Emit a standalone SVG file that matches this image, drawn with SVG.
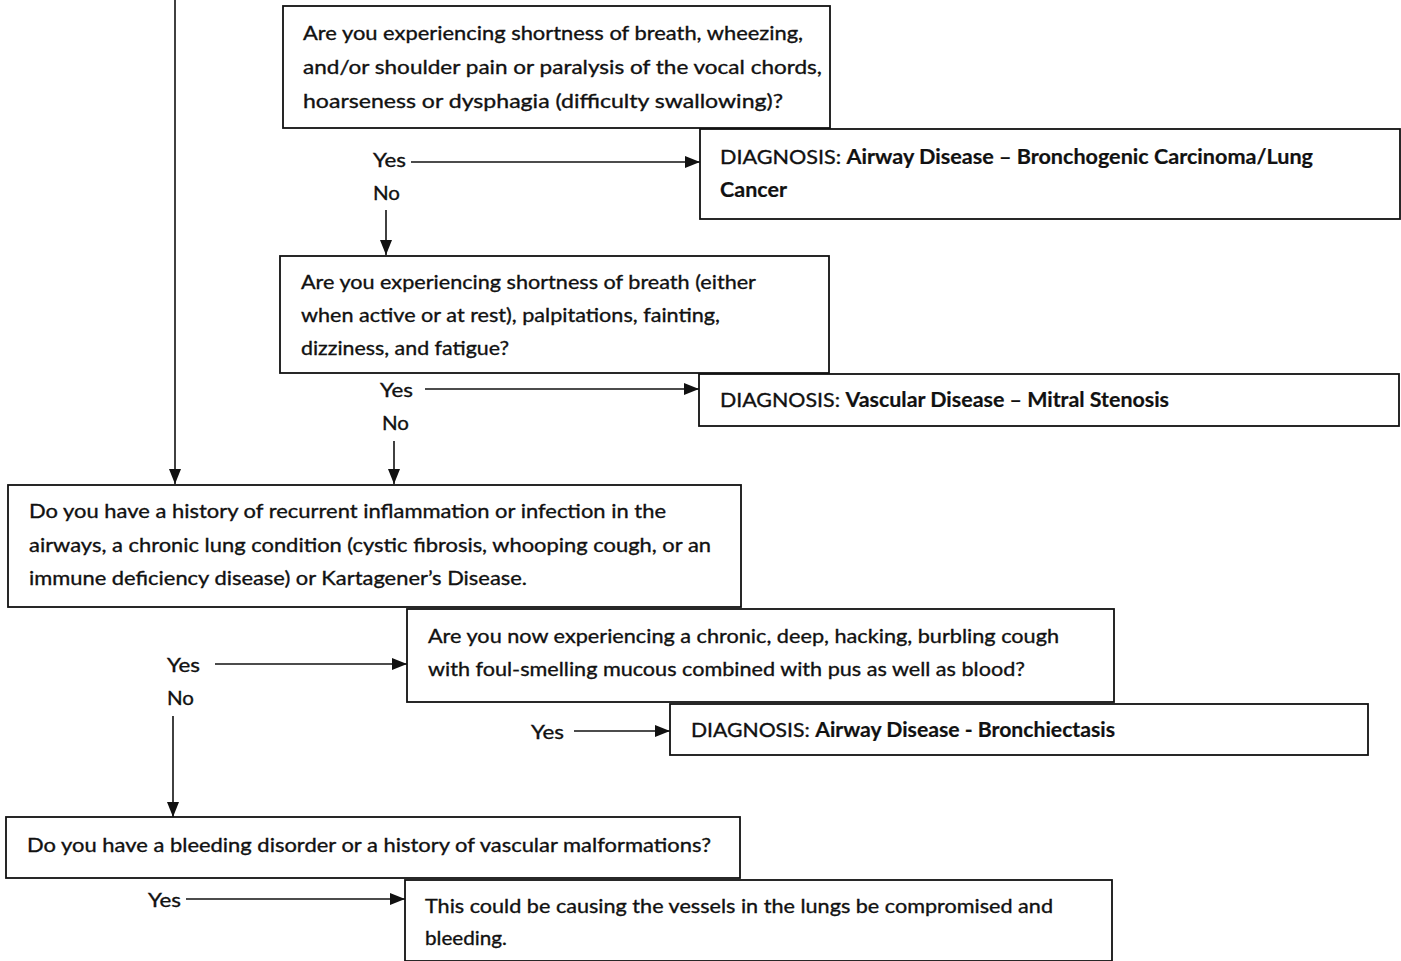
<svg xmlns="http://www.w3.org/2000/svg" width="1401" height="961" viewBox="0 0 1401 961">
  <style>
    .box { fill: #ffffff; stroke: #111111; stroke-width: 1.8; }
    .t { font-family: Lato, "Open Sans", "Liberation Sans", sans-serif; font-size: 20px; fill: #111111; stroke: #111111; stroke-width: 0.35; }
    .b { font-weight: bold; stroke-width: 0.2; }
    .conn line { stroke: #111111; stroke-width: 1.6; }
  </style>
  <defs>
    <marker id="arrow" viewBox="0 0 15 12" refX="15" refY="6" markerWidth="15" markerHeight="12" markerUnits="userSpaceOnUse" orient="auto">
      <path d="M0,0 L15,6 L0,12 Z" fill="#111111"/>
    </marker>
  </defs>
  <rect width="1401" height="961" fill="#ffffff"/>

  <!-- connectors -->
  <g id="connectors" class="conn">
    <line x1="175" y1="0" x2="175" y2="484" marker-end="url(#arrow)"/>
    <line x1="411" y1="162" x2="700" y2="162" marker-end="url(#arrow)"/>
    <line x1="386" y1="210" x2="386" y2="255" marker-end="url(#arrow)"/>
    <line x1="425" y1="389" x2="699" y2="389" marker-end="url(#arrow)"/>
    <line x1="394" y1="441" x2="394" y2="484" marker-end="url(#arrow)"/>
    <line x1="215" y1="664" x2="407" y2="664" marker-end="url(#arrow)"/>
    <line x1="173" y1="716" x2="173" y2="817" marker-end="url(#arrow)"/>
    <line x1="574" y1="731" x2="670" y2="731" marker-end="url(#arrow)"/>
    <line x1="186" y1="899" x2="405" y2="899" marker-end="url(#arrow)"/>
  </g>

  <!-- edge labels -->
  <g id="labels">
    <text class="t" x="373" y="167" textLength="33" lengthAdjust="spacingAndGlyphs">Yes</text>
    <text class="t" x="373" y="200" textLength="27" lengthAdjust="spacingAndGlyphs">No</text>
    <text class="t" x="380" y="397" textLength="33" lengthAdjust="spacingAndGlyphs">Yes</text>
    <text class="t" x="382" y="430" textLength="27" lengthAdjust="spacingAndGlyphs">No</text>
    <text class="t" x="167" y="672" textLength="33" lengthAdjust="spacingAndGlyphs">Yes</text>
    <text class="t" x="167" y="705" textLength="27" lengthAdjust="spacingAndGlyphs">No</text>
    <text class="t" x="531" y="739" textLength="33" lengthAdjust="spacingAndGlyphs">Yes</text>
    <text class="t" x="148" y="907" textLength="33" lengthAdjust="spacingAndGlyphs">Yes</text>
  </g>

  <g id="q-airway">
    <rect class="box" x="283" y="6" width="547" height="122"/>
    <text class="t" x="303" y="40" textLength="500" lengthAdjust="spacingAndGlyphs">Are you experiencing shortness of breath, wheezing,</text>
    <text class="t" x="303" y="74" textLength="519" lengthAdjust="spacingAndGlyphs">and/or shoulder pain or paralysis of the vocal chords,</text>
    <text class="t" x="303" y="108" textLength="480" lengthAdjust="spacingAndGlyphs">hoarseness or dysphagia (difficulty swallowing)?</text>
  </g>

  <g id="dx-lung-cancer">
    <rect class="box" x="700" y="129" width="700" height="90"/>
    <text class="t" x="720" y="164" textLength="593" lengthAdjust="spacingAndGlyphs">DIAGNOSIS: <tspan class="b">Airway Disease – Bronchogenic Carcinoma/Lung</tspan></text>
    <text class="t b" x="720" y="197" textLength="67" lengthAdjust="spacingAndGlyphs">Cancer</text>
  </g>

  <g id="q-vascular">
    <rect class="box" x="280" y="256" width="549" height="117"/>
    <text class="t" x="301" y="289" textLength="455" lengthAdjust="spacingAndGlyphs">Are you experiencing shortness of breath (either</text>
    <text class="t" x="301" y="322" textLength="419" lengthAdjust="spacingAndGlyphs">when active or at rest), palpitations, fainting,</text>
    <text class="t" x="301" y="355" textLength="208" lengthAdjust="spacingAndGlyphs">dizziness, and fatigue?</text>
  </g>

  <g id="dx-mitral">
    <rect class="box" x="699" y="374" width="700" height="52"/>
    <text class="t" x="720" y="407" textLength="449" lengthAdjust="spacingAndGlyphs">DIAGNOSIS: <tspan class="b">Vascular Disease – Mitral Stenosis</tspan></text>
  </g>

  <g id="q-history">
    <rect class="box" x="8" y="485" width="733" height="122"/>
    <text class="t" x="29" y="518" textLength="637" lengthAdjust="spacingAndGlyphs">Do you have a history of recurrent inflammation or infection in the</text>
    <text class="t" x="29" y="552" textLength="682" lengthAdjust="spacingAndGlyphs">airways, a chronic lung condition (cystic fibrosis, whooping cough, or an</text>
    <text class="t" x="29" y="585" textLength="498" lengthAdjust="spacingAndGlyphs">immune deficiency disease) or Kartagener’s Disease.</text>
  </g>

  <g id="q-cough">
    <rect class="box" x="407" y="609" width="707" height="93"/>
    <text class="t" x="428" y="643" textLength="631" lengthAdjust="spacingAndGlyphs">Are you now experiencing a chronic, deep, hacking, burbling cough</text>
    <text class="t" x="428" y="676" textLength="597" lengthAdjust="spacingAndGlyphs">with foul-smelling mucous combined with pus as well as blood?</text>
  </g>

  <g id="dx-bronchiectasis">
    <rect class="box" x="670" y="704" width="698" height="51"/>
    <text class="t" x="691" y="737" textLength="424" lengthAdjust="spacingAndGlyphs">DIAGNOSIS: <tspan class="b">Airway Disease - Bronchiectasis</tspan></text>
  </g>

  <g id="q-bleeding">
    <rect class="box" x="6" y="817" width="734" height="61"/>
    <text class="t" x="27" y="852" textLength="684" lengthAdjust="spacingAndGlyphs">Do you have a bleeding disorder or a history of vascular malformations?</text>
  </g>

  <g id="result-bleeding">
    <rect class="box" x="405" y="880" width="707" height="81"/>
    <text class="t" x="425" y="913" textLength="628" lengthAdjust="spacingAndGlyphs">This could be causing the vessels in the lungs be compromised and</text>
    <text class="t" x="425" y="945" textLength="82" lengthAdjust="spacingAndGlyphs">bleeding.</text>
  </g>
</svg>
